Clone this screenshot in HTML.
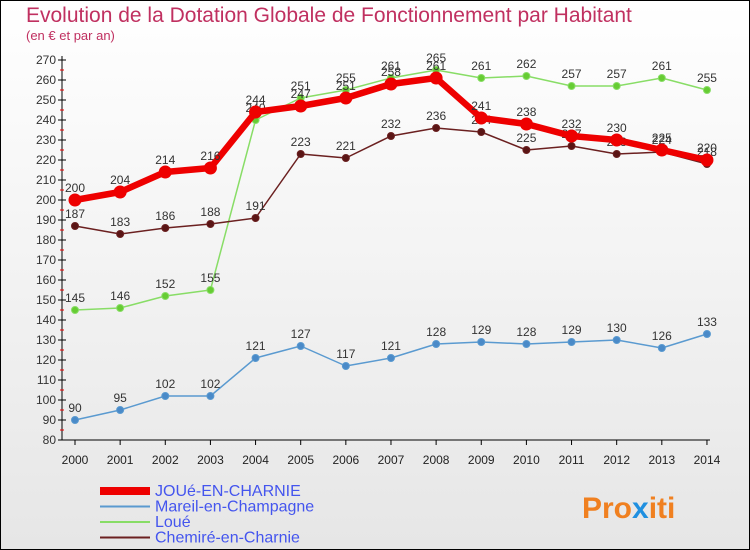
<!DOCTYPE html>
<html><head><meta charset="utf-8"><style>
body{margin:0;width:750px;height:550px;overflow:hidden;font-family:"Liberation Sans",sans-serif}
#wrap{position:absolute;left:0;top:0;width:748px;height:548px;border:1px solid #000;background:linear-gradient(#fff,#e6e6e6)}
</style></head><body>
<div id="wrap">
<svg id="chart" width="750" height="550" style="position:absolute;left:-1px;top:-1px">
<text x="26" y="22" font-size="21" fill="#c03060">Evolution de la Dotation Globale de Fonctionnement par Habitant</text>
<text x="26" y="40" font-size="13" fill="#c03060">(en € et par an)</text>
<g id="axes"></g><g id="series"></g><g id="legend"></g>
<text x="582" y="518" font-size="30" font-weight="bold" fill="#f08020">Pro<tspan fill="#2090e0">x</tspan>iti</text>
</svg></div>
<script>
const years=[2000,2001,2002,2003,2004,2005,2006,2007,2008,2009,2010,2011,2012,2013,2014];
const yTicks=[80,90,100,110,120,130,140,150,160,170,180,190,200,210,220,230,240,250,260,270];
const joue=[200,204,214,216,244,247,251,258,261,241,238,232,230,225,220];
const mareil=[90,95,102,102,121,127,117,121,128,129,128,129,130,126,133];
const loue=[145,146,152,155,240,251,255,261,265,261,262,257,257,261,255];
const chemire=[187,183,186,188,191,223,221,232,236,234,225,227,223,224,218];
const NS='http://www.w3.org/2000/svg';
const xS=i=>75+i*45.14, yS=v=>440-(v-80)*2;
function mk(t,a,p){const e=document.createElementNS(NS,t);for(const k in a)e.setAttribute(k,a[k]);p.appendChild(e);return e;}
const ax=document.getElementById('axes');
let e=mk('line',{x1:62,y1:56,x2:62,y2:440,stroke:'#000'},ax);


e=mk('line',{x1:62,y1:440,x2:710,y2:440,stroke:'#000'},ax);


yTicks.forEach((v,k)=>{const y=yS(v);
 mk('line',{x1:58,y1:y,x2:66,y2:y,stroke:'#000'},ax);
 if(k>0) mk('line',{x1:60,y1:y+10,x2:64,y2:y+10,stroke:'#e00'},ax);
 const t=mk('text',{x:56,y:y+4,'text-anchor':'end','font-size':12,fill:'#333'},ax);t.textContent=v;
 
 });
years.forEach((yr,i)=>{const x=xS(i);
 mk('line',{x1:x,y1:440,x2:x,y2:445,stroke:'#000'},ax);
 const t=mk('text',{x:x,y:464,'text-anchor':'middle','font-size':12,fill:'#222'},ax);t.textContent=yr;
 
 });
const sg=document.getElementById('series');
function series(d,col,w,r,name,dot){
 const g=mk('g',{},sg);
 
 
 mk('polyline',{points:d.map((v,i)=>xS(i)+','+yS(v)).join(' '),fill:'none',stroke:col,'stroke-width':w,'stroke-linejoin':'round'},g);
 d.forEach((v,i)=>{const c=mk('circle',{cx:xS(i),cy:yS(v),r:r,fill:dot,stroke:col,'stroke-width':1},g);
  
  
  const t=mk('text',{x:xS(i),y:yS(v)-8,'text-anchor':'middle','font-size':12,fill:'#333'},g);t.textContent=v;
  
  });
}
series(mareil,'#5a9ad0',1.5,3.5,'mareil-series','#4a8ac8');
series(loue,'#88dd66',1.5,3.5,'loue-series','#66cc33');
series(chemire,'#6b2020',1.5,3.5,'chemire-series','#5a1515');
series(joue,'#ee0000',6.5,6,'joue-series','#ee0000');
const lg=document.getElementById('legend');
[['JOUé-EN-CHARNIE','#ee0000',8],['Mareil-en-Champagne','#5a9ad0',2],['Loué','#88dd66',2],['Chemiré-en-Charnie','#6b2020',2]].forEach((l,i)=>{
 const y=491+i*15.5;
 const g=mk('g',{},lg);
 
 
 mk('line',{x1:100,y1:y,x2:150,y2:y,stroke:l[1],'stroke-width':l[2]},g);
 const t=mk('text',{x:155,y:y+5,'font-size':16,fill:'#4455ee'},g);t.textContent=l[0];
});
</script></body></html>
